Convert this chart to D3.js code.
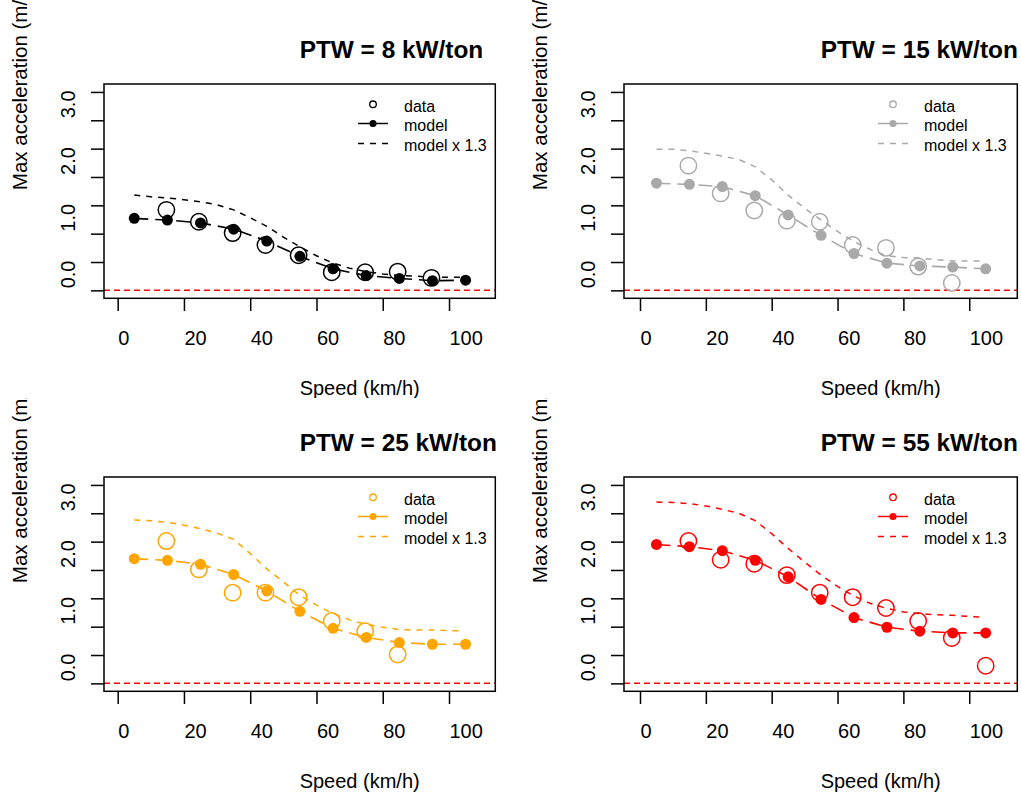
<!DOCTYPE html>
<html><head><meta charset="utf-8">
<script src="https://cdn.jsdelivr.net/npm/d3@7/dist/d3.min.js"></script>
<style>
body{margin:0;background:#fff}
text{font-family:"Liberation Sans",Arial,Helvetica,sans-serif;fill:#000}
</style>
</head><body>
<svg id="chart" width="1021" height="796"></svg>
<script>
// ---------- data ----------
const modelSpeed  = [5, 15, 25, 35, 45, 55, 65, 75, 85, 95, 105];
const dataSpeed   = [14.7, 24.5, 34.7, 44.6, 54.6, 64.6, 74.7, 84.5, 94.7, 105];
const scaledSpeed = [5, 10, 15, 20, 25, 30, 35, 40, 45, 50, 55, 60, 65, 70, 75, 80, 85, 90, 95, 100, 104];

const titles = ["PTW = 8 kW/ton", "PTW = 15 kW/ton", "PTW = 25 kW/ton", "PTW = 55 kW/ton"];
const colors = ["#000000", "#A9A9A9", "#FFA500", "#FF0000"];

const model8  = [1.27, 1.24, 1.19, 1.08, 0.87, 0.60, 0.38, 0.26, 0.21, 0.17, 0.18];
const data8   = [1.42, 1.21, 1.01, 0.80, 0.62, 0.32, 0.32, 0.33, 0.22];
const scaled8 = [1.68, 1.65, 1.63, 1.60, 1.56, 1.51, 1.42, 1.28, 1.13, 0.94, 0.77, 0.61, 0.48, 0.39, 0.33, 0.29, 0.26, 0.25, 0.23, 0.23, 0.23];

const model15  = [1.89, 1.87, 1.83, 1.67, 1.33, 0.97, 0.65, 0.48, 0.43, 0.41, 0.38];
const data15   = [2.20, 1.71, 1.41, 1.23, 1.21, 0.80, 0.75, 0.42, 0.13];
const scaled15 = [2.49, 2.49, 2.46, 2.42, 2.37, 2.31, 2.18, 1.95, 1.68, 1.45, 1.24, 1.04, 0.86, 0.72, 0.61, 0.58, 0.57, 0.54, 0.52, 0.52, 0.52];

const model25  = [2.20, 2.17, 2.10, 1.92, 1.63, 1.27, 0.97, 0.81, 0.72, 0.69, 0.69];
const data25   = [2.51, 2.01, 1.60, 1.60, 1.52, 1.10, 0.92, 0.51];
const scaled25 = [2.88, 2.87, 2.84, 2.79, 2.73, 2.65, 2.54, 2.29, 2.02, 1.79, 1.55, 1.38, 1.23, 1.12, 1.04, 0.99, 0.95, 0.94, 0.94, 0.93, 0.93];

const model55  = [2.45, 2.41, 2.34, 2.17, 1.88, 1.48, 1.16, 0.99, 0.92, 0.89, 0.89];
const data55   = [2.51, 2.18, 2.11, 1.91, 1.60, 1.52, 1.33, 1.10, 0.80, 0.31];
const scaled55 = [3.20, 3.19, 3.17, 3.13, 3.07, 3.00, 2.87, 2.64, 2.38, 2.14, 1.91, 1.71, 1.54, 1.41, 1.32, 1.26, 1.23, 1.21, 1.20, 1.18, 1.17];

const xTicks = [0, 20, 40, 60, 80, 100];
const yTicks = [0, 0.5, 1, 1.5, 2, 2.5, 3, 3.5];
const yTickLabels = ["0.0", "1.0", "2.0", "3.0"];
const yTickLabelAt = [0, 1, 2, 3];
const legendLabels = ["data", "model", "model x 1.3"];
const xLabel = "Speed (km/h)";
const yLabel = "Max acceleration (m/s\u00B2)";

const panels = [
  {title: titles[0], color: colors[0], model: model8,  data: data8,  scaled: scaled8},
  {title: titles[1], color: colors[1], model: model15, data: data15, scaled: scaled15},
  {title: titles[2], color: colors[2], model: model25, data: data25, scaled: scaled25},
  {title: titles[3], color: colors[3], model: model55, data: data55, scaled: scaled55}
];

// ---------- layout ----------
const colBox = [[104, 495.3], [624, 1017.3]];
const colDomain = [[-4.13, 113.97], [-4.86, 114.6]];
const rowBox = [[84, 298.3], [477, 691.3]];
const svg = d3.select("#chart");
svg.append("rect").attr("width", 1021).attr("height", 796).attr("fill", "#fff");

panels.forEach((p, i) => {
  const col = i % 2, row = Math.floor(i / 2);
  const [bx0, bx1] = colBox[col];
  const [by0, by1] = rowBox[row];
  const clipId = "clip" + i, plotClip = "pclip" + i;
  const defs = svg.append("defs");
  defs.append("clipPath").attr("id", clipId).append("rect")
    .attr("x", col * 510).attr("y", row * 398).attr("width", col ? 511 : 510).attr("height", 398);
  defs.append("clipPath").attr("id", plotClip).append("rect")
    .attr("x", bx0).attr("y", by0).attr("width", bx1 - bx0).attr("height", by1 - by0);

  const g = svg.append("g").attr("clip-path", `url(#${clipId})`);
  const x = d3.scaleLinear().domain(colDomain[col]).range([bx0, bx1]);
  const y = d3.scaleLinear().domain([-0.14, 3.64]).range([by1, by0]);
  const cx = (bx0 + bx1) / 2, cy = (by0 + by1) / 2;

  // axes ticks
  const xa = d3.axisBottom(x).tickValues(xTicks).tickSize(12.7).tickFormat("");
  const xg = g.append("g").attr("transform", `translate(0,${by1})`).call(xa);
  xg.select(".domain").remove();
  xg.selectAll("line").attr("stroke", "#000").attr("stroke-width", 1.5);
  const ya = d3.axisLeft(y).tickValues(yTicks).tickSize(13).tickFormat("");
  const yg = g.append("g").attr("transform", `translate(${bx0},0)`).call(ya);
  yg.select(".domain").remove();
  yg.selectAll("line").attr("stroke", "#000").attr("stroke-width", 1.5);

  // tick labels
  g.selectAll(".xl").data(xTicks).enter().append("text")
    .attr("x", d => x(d) + 0.5).attr("y", by1 + 46.7)
    .attr("font-size", 20).attr("text-anchor", "start").text(d => d);
  g.selectAll(".yl").data(yTickLabelAt).enter().append("text")
    .attr("transform", (d) => `translate(${bx0 - 29},${y(d) - 2}) rotate(-90)`)
    .attr("font-size", 20).attr("text-anchor", "start").text((d, k) => yTickLabels[k]);

  // axis titles and panel title
  g.append("text").attr("x", cx).attr("y", by1 + 96.5).attr("font-size", 20).text(xLabel);
  g.append("text").attr("transform", `translate(${bx0 - 77.4},${cy - 1}) rotate(-90)`)
    .attr("font-size", 20.5).attr("text-anchor", "start").text(yLabel);
  g.append("text").attr("x", cx).attr("y", by0 - 26).attr("font-size", 24.4)
    .attr("font-weight", "bold").text(p.title);

  // plot content
  const pg = g.append("g").attr("clip-path", `url(#${plotClip})`);
  pg.append("line").attr("x1", bx0).attr("x2", bx1).attr("y1", y(0)).attr("y2", y(0))
    .attr("stroke", "#FF0000").attr("stroke-width", 1.5).attr("stroke-dasharray", "6,4");

  const dataPts = p.data.map((v, k) => [dataSpeed[k], v]);
  pg.selectAll(".dc").data(dataPts).enter().append("circle")
    .attr("cx", d => x(d[0])).attr("cy", d => y(d[1])).attr("r", 8.2)
    .attr("fill", "none").attr("stroke", p.color).attr("stroke-width", 1.5);

  const line = d3.line().x(d => x(d[0])).y(d => y(d[1]));
  const scaledPts = p.scaled.map((v, k) => [scaledSpeed[k], v]);
  pg.append("path").attr("d", line(scaledPts)).attr("fill", "none")
    .attr("stroke", p.color).attr("stroke-width", 1.5).attr("stroke-dasharray", "6,6");

  const modelPts = p.model.map((v, k) => [modelSpeed[k], v]);
  pg.append("path").attr("d", line(modelPts)).attr("fill", "none")
    .attr("stroke", p.color).attr("stroke-width", 1.6).attr("stroke-dasharray", "14,7");
  pg.selectAll(".md").data(modelPts).enter().append("circle")
    .attr("cx", d => x(d[0])).attr("cy", d => y(d[1])).attr("r", 5.5)
    .attr("fill", p.color);

  // box
  g.append("rect").attr("x", bx0).attr("y", by0).attr("width", bx1 - bx0).attr("height", by1 - by0)
    .attr("fill", "none").attr("stroke", "#000").attr("stroke-width", 1.5);

  // legend
  const lg = g.append("g");
  const lx = bx0 + 300, sx = bx0 + 269;
  const rows = [by0 + 20.3, by0 + 39.5, by0 + 59.5];
  legendLabels.forEach((t, k) => {
    lg.append("text").attr("x", lx).attr("y", rows[k] + 7.5).attr("font-size", 16).text(t);
  });
  lg.append("circle").attr("cx", sx).attr("cy", rows[0]).attr("r", 3.3)
    .attr("fill", "none").attr("stroke", p.color).attr("stroke-width", 1.3);
  lg.append("line").attr("x1", sx - 15).attr("x2", sx + 15).attr("y1", rows[1]).attr("y2", rows[1])
    .attr("stroke", p.color).attr("stroke-width", 1.5);
  lg.append("circle").attr("cx", sx).attr("cy", rows[1]).attr("r", 3.6).attr("fill", p.color);
  lg.append("line").attr("x1", sx - 15).attr("x2", sx + 15).attr("y1", rows[2]).attr("y2", rows[2])
    .attr("stroke", p.color).attr("stroke-width", 1.5).attr("stroke-dasharray", "6,6");
});
</script>
</body></html>
